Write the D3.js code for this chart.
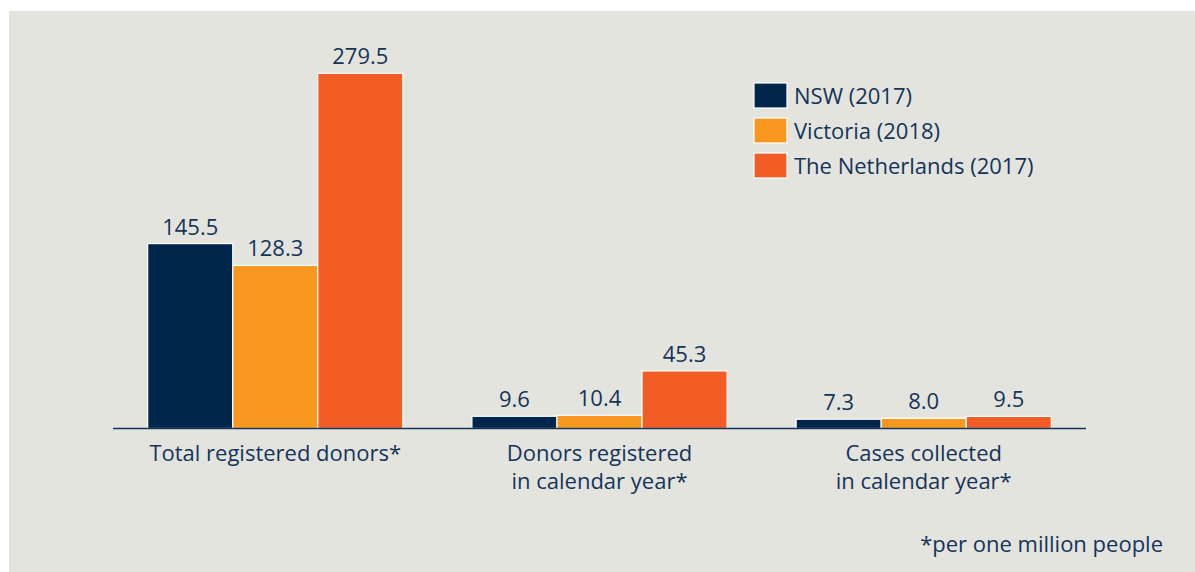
<!DOCTYPE html>
<html>
<head>
<meta charset="utf-8">
<script src="https://cdn.jsdelivr.net/npm/d3@7"></script>
<style>
  html, body { margin: 0; padding: 0; background: #fff; }
  text { font-family: "Open Sans", sans-serif; fill: #14345a; }
</style>
</head>
<body>
<svg id="chart" width="1195" height="572"></svg>
<script>
// chart data
const categories = [
  ["Total registered donors*"],
  ["Donors registered", "in calendar year*"],
  ["Cases collected", "in calendar year*"]
];
const seriesNames = ["NSW (2017)", "Victoria (2018)", "The Netherlands (2017)"];
const nsw = [145.5, 9.6, 7.3];
const victoria = [128.3, 10.4, 8.0];
const netherlands = [279.5, 45.3, 9.5];
const colors = ["#00264b", "#f8981f", "#f15d24"];

const series = [nsw, victoria, netherlands];

const svg = d3.select("#chart");
const width = 1195, height = 572;

// grey panel
svg.append("rect")
  .attr("x", 9).attr("y", 11)
  .attr("width", width - 9).attr("height", height - 11)
  .attr("fill", "#e4e4df");

const baseY = 428.5;

const x0 = d3.scaleBand()
  .domain(d3.range(categories.length))
  .range([113, 1086])
  .paddingInner(0.213)
  .paddingOuter(0.107);

const x1 = d3.scaleBand()
  .domain(d3.range(series.length))
  .range([0, x0.bandwidth()]);

const y = d3.scaleLinear()
  .domain([0, 279.5])
  .range([baseY, 73.3]);

// bars
const groups = svg.append("g")
  .selectAll("g")
  .data(categories)
  .join("g")
  .attr("transform", (d, i) => `translate(${x0(i)},0)`);

groups.selectAll("rect")
  .data((d, i) => series.map((s, j) => ({ s: j, v: s[i] })))
  .join("rect")
  .attr("x", d => x1(d.s))
  .attr("y", d => y(d.v))
  .attr("width", x1.bandwidth())
  .attr("height", d => baseY - y(d.v))
  .attr("fill", d => colors[d.s])
  .attr("stroke", "#fff")
  .attr("stroke-width", 1.2);

// value labels
groups.selectAll("text.val")
  .data((d, i) => series.map((s, j) => ({ s: j, v: s[i] })))
  .join("text")
  .attr("class", "val")
  .attr("x", d => x1(d.s) + x1.bandwidth() / 2)
  .attr("y", d => y(d.v) - 9)
  .attr("text-anchor", "middle")
  .attr("font-size", 22)
  .text(d => d.v.toFixed(1));

// baseline
svg.append("line")
  .attr("x1", 113).attr("x2", 1086)
  .attr("y1", baseY).attr("y2", baseY)
  .attr("stroke", "#14345a")
  .attr("stroke-width", 1.5);

// category labels (one text per line)
groups.each(function (lines) {
  const g = d3.select(this);
  lines.forEach((line, k) => {
    g.append("text")
      .attr("x", x0.bandwidth() / 2)
      .attr("y", 461 + k * 28)
      .attr("text-anchor", "middle")
      .attr("font-size", 22)
      .text(line);
  });
});

// legend
const legend = svg.append("g")
  .attr("transform", "translate(754,83)");

const item = legend.selectAll("g")
  .data(seriesNames)
  .join("g")
  .attr("transform", (d, i) => `translate(0,${i * 35})`);

item.append("rect")
  .attr("width", 33).attr("height", 25)
  .attr("fill", (d, i) => colors[i])
  .attr("stroke", "#fff")
  .attr("stroke-width", 1.2);

item.append("text")
  .attr("x", 40)
  .attr("y", 20.5)
  .attr("font-size", 22)
  .text(d => d);

// footnote
svg.append("text")
  .attr("x", 1163)
  .attr("y", 552)
  .attr("text-anchor", "end")
  .attr("font-size", 22)
  .text("*per one million people");
</script>
</body>
</html>
